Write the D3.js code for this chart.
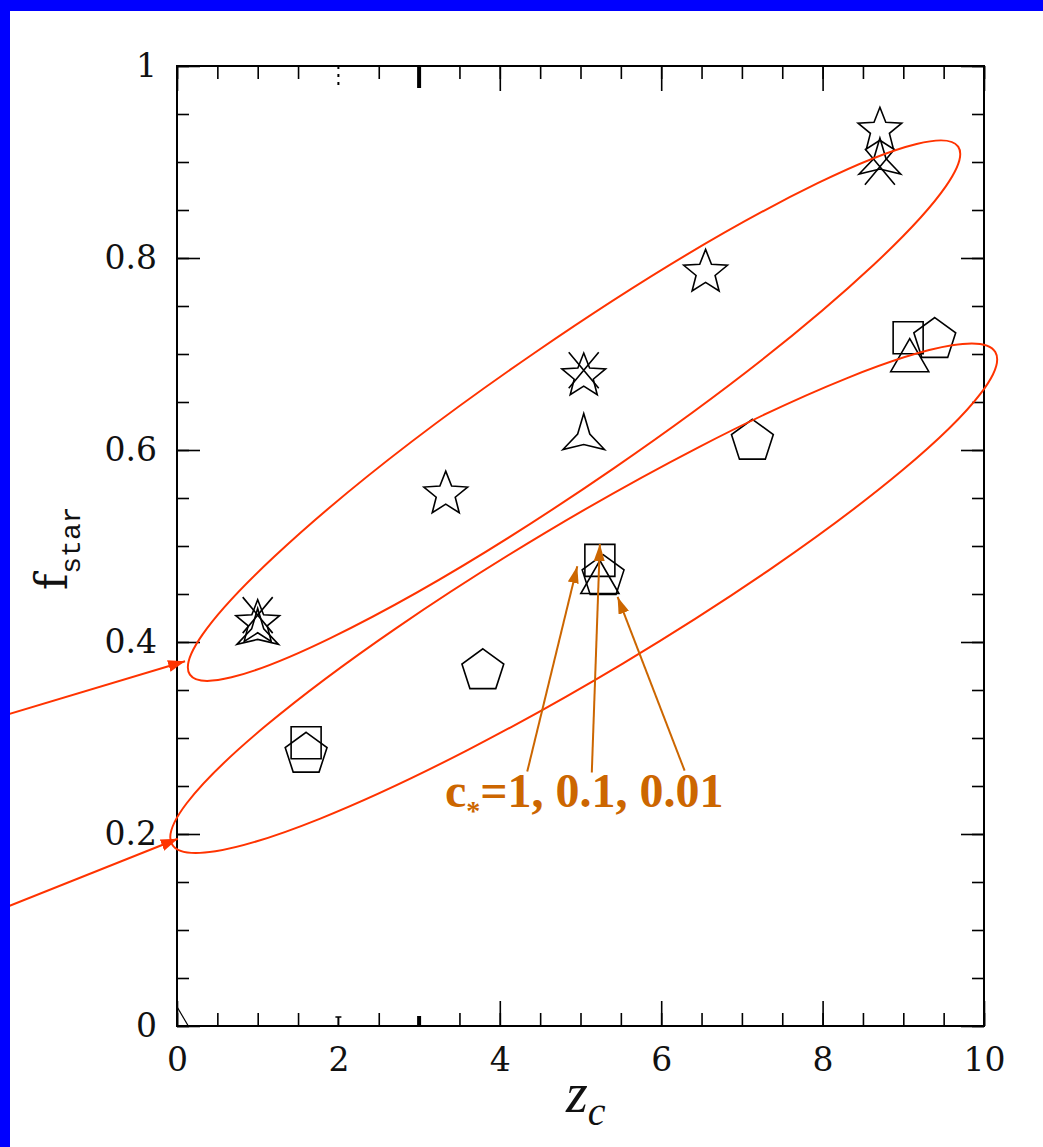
<!DOCTYPE html>
<html>
<head>
<meta charset="utf-8">
<script src="https://cdn.jsdelivr.net/npm/d3@7"></script>
<style>
  html, body { margin: 0; padding: 0; background: #fff; }
  svg { display: block; }
</style>
</head>
<body>
<div id="chart"></div>
<script>
// ---- data ----
// upper group (stars, crosses, concave triangles)
const starZ = [1.0, 3.33, 5.04, 6.55, 8.71];
const starF = [0.42, 0.554, 0.677, 0.785, 0.933];
const crossZ = [1.0, 5.04, 8.71];
const crossF = [0.428, 0.683, 0.895];
const concaveZ = [1.0, 5.04, 8.71];
const concaveF = [0.41, 0.613, 0.9];
// lower group (squares, pentagons, triangles)
const squareZ = [1.6, 5.24, 9.06];
const squareF = [0.295, 0.485, 0.717];
const pentaZ = [1.6, 3.79, 5.28, 7.13, 9.39];
const pentaF = [0.283, 0.37, 0.468, 0.609, 0.715];
const triZ = [5.24, 9.08];
const triF = [0.462, 0.693];

// axis ticks
const xMajor = [0, 2, 4, 6, 8, 10];
const xLabels = ["0", "2", "4", "6", "8", "10"];
const xMinor = d3.range(0, 10.01, 0.5);
const yMajor = [0, 0.2, 0.4, 0.6, 0.8, 1];
const yLabels = ["0", "0.2", "0.4", "0.6", "0.8", "1"];
const yMinor = d3.range(0, 1.001, 0.05);
// ticks at z=2 and z=3 look different in the picture, drawn by hand below
const xOddTicks = [2, 3];

// annotation ellipses: major axis ends (z, f)
const ellUpperZ = [0.16, 9.68];
const ellUpperF = [0.366, 0.916];
const ellLowerZ = [-0.06, 10.14];
const ellLowerF = [0.189, 0.702];

// red arrows from the left edge
const redArrowZ = [[-2.2, 0.1], [-2.2, 0.01]];
const redArrowF = [[0.322, 0.38], [0.121, 0.195]];

// orange arrows from the c* label
const orangeArrowZ = [[4.34, 4.96], [5.14, 5.24], [6.29, 5.46]];
const orangeArrowF = [[0.265, 0.479], [0.264, 0.502], [0.266, 0.447]];
const labelZ = 3.32;
const labelF = 0.228;

// ---- layout ----
const W = 1043, H = 1147;
const margin = { left: 177, right: 59, top: 66, bottom: 121 };
const red = "#ff3300";
const orange = "#cc6600";

const svg = d3.select("#chart").append("svg")
  .attr("width", W).attr("height", H);

svg.append("rect").attr("width", W).attr("height", H).attr("fill", "#fff");

const x = d3.scaleLinear().domain([0, 10]).range([margin.left, W - margin.right]);
const y = d3.scaleLinear().domain([0, 1]).range([H - margin.bottom, margin.top]);

const defs = svg.append("defs");
function arrowMarker(id, color, len, wid) {
  defs.append("marker")
    .attr("id", id)
    .attr("markerUnits", "userSpaceOnUse")
    .attr("markerWidth", len).attr("markerHeight", wid)
    .attr("refX", len).attr("refY", wid / 2)
    .attr("orient", "auto")
    .append("path")
    .attr("d", `M0,0L${len},${wid / 2}L0,${wid}Z`)
    .attr("fill", color);
}
arrowMarker("redHead", red, 17, 12);
arrowMarker("orangeHead", orange, 17, 11);

// ---- axes (ticks point inward on all four sides) ----
const tickFont = "'DejaVu Serif', serif";
function styleAxis(g) {
  g.select(".domain").remove();
  g.selectAll(".tick line").attr("stroke", "#000").attr("stroke-width", 1.6);
}
const xMinorPlain = xMinor.filter(v => !xOddTicks.includes(v));
const xMajorPlain = xMajor.filter(v => !xOddTicks.includes(v));

svg.append("g").attr("transform", `translate(0,${y(0)})`)
  .call(d3.axisBottom(x).tickValues(xMinorPlain).tickSize(-13).tickFormat(""))
  .call(styleAxis);
svg.append("g").attr("transform", `translate(0,${y(0)})`)
  .call(d3.axisBottom(x).tickValues(xMajor).tickSize(-25).tickPadding(22)
    .tickFormat((d, i) => xLabels[i]))
  .call(styleAxis)
  .call(g => g.selectAll(".tick").filter(d => xOddTicks.includes(d)).select("line").remove())
  .selectAll("text").attr("font-family", tickFont).attr("font-size", 33).attr("fill", "#111");

svg.append("g").attr("transform", `translate(0,${y(1)})`)
  .call(d3.axisTop(x).tickValues(xMinorPlain).tickSize(-13).tickFormat(""))
  .call(styleAxis);
svg.append("g").attr("transform", `translate(0,${y(1)})`)
  .call(d3.axisTop(x).tickValues(xMajorPlain).tickSize(-25).tickFormat(""))
  .call(styleAxis);

svg.append("g").attr("transform", `translate(${x(0)},0)`)
  .call(d3.axisLeft(y).tickValues(yMinor).tickSize(-12).tickFormat(""))
  .call(styleAxis);
svg.append("g").attr("transform", `translate(${x(0)},0)`)
  .call(d3.axisLeft(y).tickValues(yMajor).tickSize(-23).tickPadding(20)
    .tickFormat((d, i) => yLabels[i]))
  .call(styleAxis)
  .selectAll("text").attr("font-family", tickFont).attr("font-size", 33).attr("fill", "#111");

svg.append("g").attr("transform", `translate(${x(10)},0)`)
  .call(d3.axisRight(y).tickValues(yMinor).tickSize(-12).tickFormat(""))
  .call(styleAxis);
svg.append("g").attr("transform", `translate(${x(10)},0)`)
  .call(d3.axisRight(y).tickValues(yMajor).tickSize(-23).tickFormat(""))
  .call(styleAxis);

// frame
svg.append("rect")
  .attr("x", x(0)).attr("y", y(1))
  .attr("width", x(10) - x(0)).attr("height", y(0) - y(1))
  .attr("fill", "none").attr("stroke", "#000").attr("stroke-width", 2);

// odd marks near the axes (thick tick at z=3, small bars at z=2, corner stroke)
const marks = svg.append("g").attr("stroke", "#000");
marks.append("line").attr("x1", x(3)).attr("x2", x(3))
  .attr("y1", y(1)).attr("y2", y(1) + 22).attr("stroke-width", 4);
marks.append("line").attr("x1", x(3)).attr("x2", x(3))
  .attr("y1", y(0)).attr("y2", y(0) - 10).attr("stroke-width", 4);
marks.append("line").attr("x1", x(2)).attr("x2", x(2))
  .attr("y1", y(1)).attr("y2", y(1) + 24).attr("stroke-width", 2)
  .attr("stroke-dasharray", "3,5");
marks.append("line").attr("x1", x(2)).attr("x2", x(2))
  .attr("y1", y(0)).attr("y2", y(0) - 9).attr("stroke-width", 2);
marks.append("line").attr("x1", x(2) - 3).attr("x2", x(2) + 3)
  .attr("y1", y(0) - 9).attr("y2", y(0) - 9).attr("stroke-width", 1.5);
marks.append("line").attr("x1", x(0)).attr("x2", x(0.14))
  .attr("y1", y(0.02)).attr("y2", y(0)).attr("stroke-width", 1.2);

// ---- axis titles ----
const yTitle = svg.append("text")
  .attr("transform", `translate(67,590) rotate(-90)`)
  .attr("fill", "#111");
yTitle.append("tspan").attr("font-family", "'DejaVu Serif', serif").attr("font-size", 44).text("f");
yTitle.append("tspan").attr("font-family", "'Liberation Mono', monospace").attr("font-size", 28)
  .attr("dy", 13).text("star");

const xTitle = svg.append("text")
  .attr("x", 566).attr("y", 1112)
  .attr("font-family", "'Liberation Serif', 'Times New Roman', serif").attr("font-style", "italic").attr("fill", "#111");
xTitle.append("tspan").attr("font-size", 56).text("z");
xTitle.append("tspan").attr("font-size", 40).attr("dy", 13).text("c");

// ---- marker shapes ----
function starPath(n, rOut, rIn) {
  const pts = [];
  for (let i = 0; i < 2 * n; i++) {
    const r = i % 2 === 0 ? rOut : rIn;
    const a = -Math.PI / 2 + i * Math.PI / n;
    pts.push([r * Math.cos(a), r * Math.sin(a)]);
  }
  return "M" + pts.map(p => p.join(",")).join("L") + "Z";
}
function polyPath(n, r) {
  const pts = [];
  for (let i = 0; i < n; i++) {
    const a = -Math.PI / 2 + i * 2 * Math.PI / n;
    pts.push([r * Math.cos(a), r * Math.sin(a)]);
  }
  return "M" + pts.map(p => p.join(",")).join("L") + "Z";
}
const shapes = {
  star: starPath(5, 23, 10),
  concave: starPath(3, 24, 7),
  tri: polyPath(3, 22),
  penta: polyPath(5, 22),
  square: "M-15,-16L15,-16L15,16L-15,16Z",
  cross: "M-15,-18L15,18M15,-18L-15,18"
};

const points = svg.append("g")
  .attr("fill", "none").attr("stroke", "#000").attr("stroke-width", 1.6)
  .attr("stroke-linejoin", "miter");

function drawSeries(zs, fs, shape) {
  points.selectAll(null)
    .data(zs.map((z, i) => ({ z, f: fs[i] })))
    .enter().append("path")
    .attr("transform", d => `translate(${x(d.z)},${y(d.f)})`)
    .attr("d", shapes[shape]);
}
drawSeries(squareZ, squareF, "square");
drawSeries(pentaZ, pentaF, "penta");
drawSeries(triZ, triF, "tri");
drawSeries(starZ, starF, "star");
drawSeries(crossZ, crossF, "cross");
drawSeries(concaveZ, concaveF, "concave");

// ---- red annotation: ellipses and arrows ----
function drawEllipse(zs, fs, b) {
  const x1 = x(zs[0]), y1 = y(fs[0]), x2 = x(zs[1]), y2 = y(fs[1]);
  const cx = (x1 + x2) / 2, cy = (y1 + y2) / 2;
  const a = Math.hypot(x2 - x1, y2 - y1) / 2;
  const ang = Math.atan2(y2 - y1, x2 - x1) * 180 / Math.PI;
  svg.append("ellipse")
    .attr("transform", `translate(${cx},${cy}) rotate(${ang})`)
    .attr("rx", a).attr("ry", b)
    .attr("fill", "none").attr("stroke", red).attr("stroke-width", 2);
}
drawEllipse(ellUpperZ, ellUpperF, 70);
drawEllipse(ellLowerZ, ellLowerF, 76);

redArrowZ.forEach((zs, i) => {
  svg.append("line")
    .attr("x1", x(zs[0])).attr("y1", y(redArrowF[i][0]))
    .attr("x2", x(zs[1])).attr("y2", y(redArrowF[i][1]))
    .attr("stroke", red).attr("stroke-width", 2)
    .attr("marker-end", "url(#redHead)");
});

// ---- orange annotation ----
orangeArrowZ.forEach((zs, i) => {
  svg.append("line")
    .attr("x1", x(zs[0])).attr("y1", y(orangeArrowF[i][0]))
    .attr("x2", x(zs[1])).attr("y2", y(orangeArrowF[i][1]))
    .attr("stroke", orange).attr("stroke-width", 2)
    .attr("marker-end", "url(#orangeHead)");
});

const cLabel = svg.append("text")
  .attr("x", x(labelZ)).attr("y", y(labelF))
  .attr("font-family", "'Liberation Serif', serif").attr("font-weight", "bold")
  .attr("font-size", 48).attr("fill", orange);
cLabel.append("tspan").text("c");
cLabel.append("tspan").attr("font-size", 28).attr("dy", 13).text("*");
cLabel.append("tspan").attr("dy", -13).text("=1, 0.1, 0.01");

// ---- blue frame of the slide ----
svg.append("rect").attr("x", 0).attr("y", 0).attr("width", W).attr("height", 11).attr("fill", "#0000ff");
svg.append("rect").attr("x", 0).attr("y", 0).attr("width", 10).attr("height", H).attr("fill", "#0000ff");
</script>
</body>
</html>
